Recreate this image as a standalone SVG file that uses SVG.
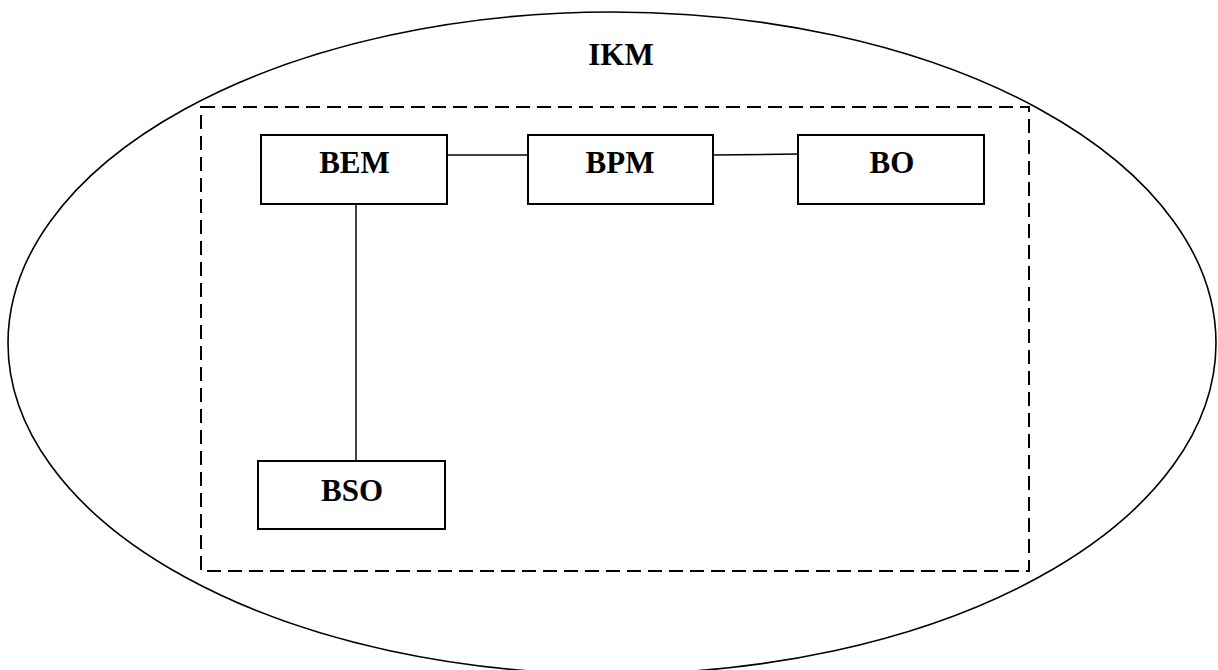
<svg xmlns="http://www.w3.org/2000/svg" width="1218" height="670" viewBox="0 0 1218 670">
<style>
.box{fill:#fff;stroke:#000;stroke-width:2}
.lbl{font-family:"Liberation Serif","Times New Roman",serif;font-weight:bold;font-size:31px;text-anchor:middle;fill:#000}
.conn{stroke:#000;stroke-width:1.5;fill:none}
</style>
<rect width="1218" height="670" fill="#fff"/>
<g id="IKM">
<ellipse cx="612" cy="343" rx="604" ry="331" fill="none" stroke="#000" stroke-width="1.6"/>
<text class="lbl" x="621" y="65">IKM</text>
</g>
<g id="boundary">
<rect x="201" y="107" width="828" height="464" fill="none" stroke="#000" stroke-width="2" stroke-dasharray="14 7"/>
</g>
<g id="connectors">
<line class="conn" x1="447" y1="155" x2="528" y2="155"/>
<line class="conn" x1="713" y1="155" x2="798" y2="154"/>
<line class="conn" x1="356" y1="204" x2="356" y2="461"/>
</g>
<g id="BEM">
<rect class="box" x="261" y="135" width="186" height="69"/>
<text class="lbl" x="354.5" y="173">BEM</text>
</g>
<g id="BPM">
<rect class="box" x="528" y="135" width="185" height="69"/>
<text class="lbl" x="620" y="173">BPM</text>
</g>
<g id="BO">
<rect class="box" x="798" y="135" width="186" height="69"/>
<text class="lbl" x="892" y="173">BO</text>
</g>
<g id="BSO">
<rect class="box" x="258" y="461" width="187" height="68"/>
<text class="lbl" x="352" y="501">BSO</text>
</g>
</svg>
